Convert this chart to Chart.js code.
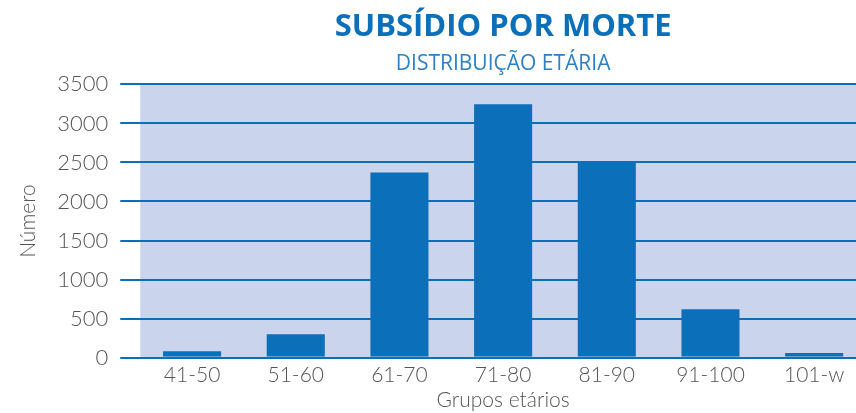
<!DOCTYPE html>
<html>
<head>
<meta charset="utf-8">
<script src="https://cdn.jsdelivr.net/npm/chart.js@4/dist/chart.umd.min.js"></script>
<style>
html,body{margin:0;padding:0;overflow:hidden;background:#fff;}
#wrap{width:866px;height:413px;position:relative;}
</style>
</head>
<body>
<div id="wrap"><canvas id="c"></canvas></div>
<script>
const categories = ["41-50","51-60","61-70","71-80","81-90","91-100","101-w"];
const values = [82, 300, 2370, 3245, 2500, 620, 58];
const yTicks = [0, 500, 1000, 1500, 2000, 2500, 3000, 3500];
const titleText = "SUBSÍDIO POR MORTE";
const subtitleText = "DISTRIBUIÇÃO ETÁRIA";
const xTitle = "Grupos etários";
const yTitle = "Número";

const FONT = "'Open Sans', 'Noto Sans', sans-serif";
const TFONT = "Lato, 'Open Sans', sans-serif";
const BLUE = "#0b6fb9";

const bgPlugin = {
  id: 'plotBg',
  beforeDraw(chart) {
    const {ctx, chartArea: a} = chart;
    ctx.save();
    ctx.fillStyle = '#cad5ed';
    ctx.fillRect(a.left, a.top, a.right - a.left, a.bottom - a.top);
    ctx.restore();
  }
};

new Chart(document.getElementById('c'), {
  type: 'bar',
  data: {
    labels: categories,
    datasets: [{
      data: values,
      backgroundColor: BLUE,
      barPercentage: 0.56,
      categoryPercentage: 1.0
    }]
  },
  options: {
    responsive: true,
    maintainAspectRatio: false,
    animation: false,
    layout: { padding: { top: 0, left: 12, right: 0, bottom: 0 } },
    plugins: {
      legend: { display: false },
      tooltip: { enabled: false },
      title: {
        display: true,
        fullSize: false,
        text: titleText,
        color: BLUE,
        font: { family: FONT, size: 31, weight: 'bold' },
        padding: { top: 9, bottom: 5 }
      },
      subtitle: {
        display: true,
        fullSize: false,
        text: subtitleText,
        color: '#2b80c6',
        font: { family: FONT, size: 21, weight: 'normal' },
        padding: { top: 0, bottom: 8 }
      }
    },
    scales: {
      x: {
        grid: { display: false },
        border: { display: false },
        ticks: { color: '#555', font: { family: TFONT, size: 21, weight: 300 }, padding: -3 },
        title: { display: true, text: xTitle, color: '#555', font: { family: TFONT, size: 21, weight: 300 }, padding: { top: 3, bottom: 0 } }
      },
      y: {
        min: 0, max: 3500,
        afterBuildTicks(axis) { axis.ticks = yTicks.map(v => ({ value: v })); },
        grid: { color: BLUE, lineWidth: 2, tickLength: 20, drawTicks: true },
        border: { display: false },
        ticks: { color: '#555', font: { family: TFONT, size: 22, weight: 300 }, padding: 12, callback: v => String(v) },
        title: { display: true, text: yTitle, color: '#555', font: { family: TFONT, size: 21, weight: 300 }, padding: { bottom: 4 } }
      }
    }
  },
  plugins: [bgPlugin]
});
</script>
</body>
</html>
